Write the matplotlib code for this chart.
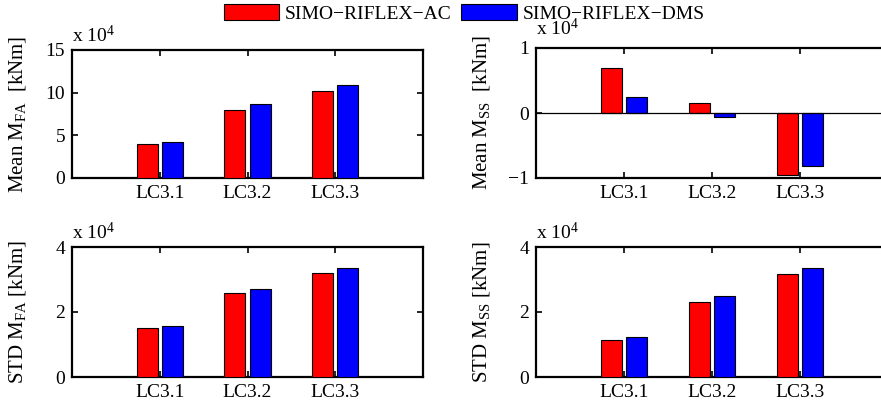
import matplotlib
matplotlib.use('Agg')
import matplotlib.pyplot as plt
from matplotlib.patches import Patch
from matplotlib.ticker import FuncFormatter
import numpy as np

plt.rcParams['font.family'] = 'Liberation Serif'
plt.rcParams['mathtext.fontset'] = 'custom'
plt.rcParams['mathtext.rm'] = 'Liberation Serif'
plt.rcParams['mathtext.it'] = 'Liberation Serif:italic'

cases = ['LC3.1', 'LC3.2', 'LC3.3']
series = ['SIMO\u2212RIFLEX\u2212AC', 'SIMO\u2212RIFLEX\u2212DMS']

# values in kNm
mean_fa_ac = [3.95e4, 8.0e4, 10.15e4]
mean_fa_dms = [4.2e4, 8.65e4, 10.85e4]
mean_ss_ac = [0.70e4, 0.155e4, -0.95e4]
mean_ss_dms = [0.24e4, -0.067e4, -0.81e4]
std_fa_ac = [1.52e4, 2.57e4, 3.21e4]
std_fa_dms = [1.56e4, 2.71e4, 3.34e4]
std_ss_ac = [1.14e4, 2.31e4, 3.16e4]
std_ss_dms = [1.23e4, 2.49e4, 3.36e4]

panels = [
    (mean_fa_ac, mean_fa_dms, 'Mean M$_{\\mathrm{FA}}$  [kNm]', (0, 15e4), [0, 5e4, 10e4, 15e4],
     [72, 50, 423, 178]),
    (mean_ss_ac, mean_ss_dms, 'Mean M$_{\\mathrm{SS}}$  [kNm]', (-1e4, 1e4), [-1e4, 0, 1e4],
     [536, 48, 888, 178]),
    (std_fa_ac, std_fa_dms, 'STD M$_{\\mathrm{FA}}$ [kNm]', (0, 4e4), [0, 2e4, 4e4],
     [72, 247, 423, 377]),
    (std_ss_ac, std_ss_dms, 'STD M$_{\\mathrm{SS}}$ [kNm]', (0, 4e4), [0, 2e4, 4e4],
     [536, 247, 888, 377]),
]

W, H = 881, 409
fig = plt.figure(figsize=(W / 100, H / 100), dpi=100)

x = np.arange(1, len(cases) + 1)
bw = 0.24

def fmt(v, pos):
    s = f'{v / 1e4:g}'
    return s.replace('-', '\u2212')

for i, (ac, dms, lab, ylim, yt, box) in enumerate(panels):
    l, t, r, b = box
    ax = fig.add_axes([l / W, 1 - b / H, (r - l) / W, (b - t) / H])
    ax.bar(x - 0.143, ac, bw, color='#ff0000', edgecolor='black', linewidth=0.8, zorder=3)
    ax.bar(x + 0.143, dms, bw, color='#0000ff', edgecolor='black', linewidth=0.8, zorder=3)
    if ylim[0] < 0:
        ax.axhline(0, color='black', linewidth=0.9, zorder=4)
    ax.set_xlim(0, 4)
    ax.set_ylim(*ylim)
    ax.set_xticks(x)
    ax.set_xticklabels(cases)
    ax.set_yticks(yt)
    ax.yaxis.set_major_formatter(FuncFormatter(fmt))
    ax.tick_params(direction='in', top=True, right=True, length=4, width=1.2,
                   labelsize=14, pad=5)
    for sp in ax.spines.values():
        sp.set_linewidth(1.6)
    ax.set_ylabel(lab, fontsize=15, labelpad=4)
    ax.yaxis.set_label_coords(-0.125, 0.5)
    dy = 13 if i == 1 else 8
    ax.text(0.0, 1 + dy / (b - t), 'x 10$^{4}$', transform=ax.transAxes,
            ha='left', va='baseline', fontsize=14)

handles = [Patch(facecolor='#ff0000', edgecolor='black', linewidth=0.8),
           Patch(facecolor='#0000ff', edgecolor='black', linewidth=0.8)]
fig.legend(handles, series, loc='center', bbox_to_anchor=(0.527, 0.967), ncol=2,
           frameon=False, fontsize=14, handlelength=2.85, handleheight=0.9,
           handletextpad=0.3, columnspacing=0.5, borderpad=0)

fig.savefig('out.png', dpi=100)
